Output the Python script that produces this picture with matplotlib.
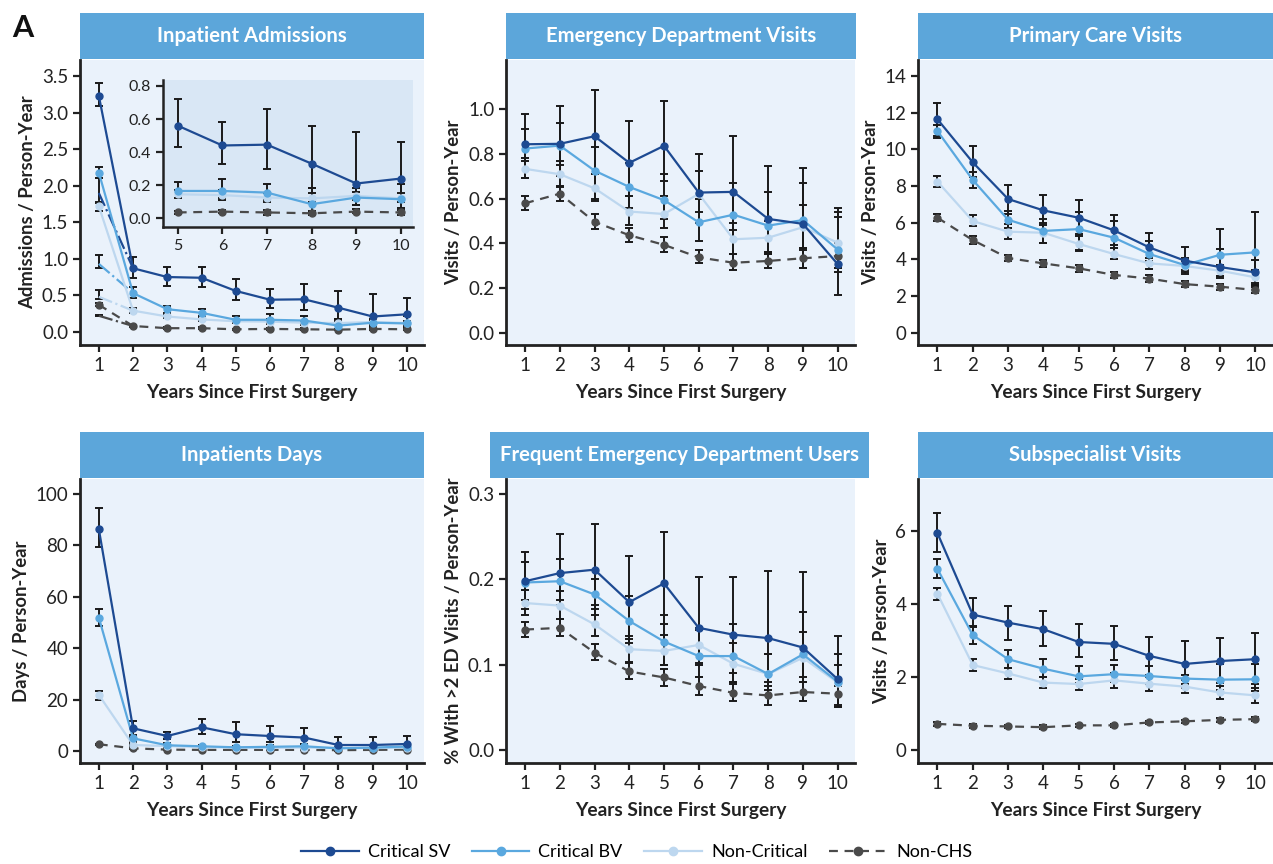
import matplotlib
matplotlib.use("Agg")
import matplotlib.pyplot as plt
from matplotlib.lines import Line2D
from matplotlib.ticker import FormatStrFormatter

plt.rcParams['font.family'] = ['Lato', 'DejaVu Sans']

years = [1, 2, 3, 4, 5, 6, 7, 8, 9, 10]
group_names = ['Critical SV', 'Critical BV', 'Non-Critical', 'Non-CHS']

# --- Inpatient Admissions ---
adm_sv = [3.23, 0.87, 0.75, 0.74, 0.56, 0.44, 0.445, 0.33, 0.21, 0.24]
adm_sv_lo = [3.09, 0.74, 0.63, 0.62, 0.43, 0.33, 0.30, 0.18, 0.08, 0.12]
adm_sv_hi = [3.40, 1.02, 0.89, 0.89, 0.72, 0.58, 0.66, 0.56, 0.52, 0.46]
adm_bv = [2.18, 0.53, 0.31, 0.26, 0.165, 0.165, 0.155, 0.085, 0.125, 0.115]
adm_bv_lo = [2.10, 0.46, 0.26, 0.21, 0.12, 0.12, 0.11, 0.04, 0.08, 0.06]
adm_bv_hi = [2.26, 0.61, 0.36, 0.31, 0.22, 0.24, 0.21, 0.18, 0.18, 0.21]
adm_nc = [1.72, 0.29, 0.21, 0.17, 0.145, 0.14, 0.125, 0.12, 0.135, 0.12]
adm_nc_lo = [1.66, 0.26, 0.19, 0.15, 0.12, 0.11, 0.10, 0.10, 0.11, 0.10]
adm_nc_hi = [1.78, 0.33, 0.24, 0.20, 0.17, 0.17, 0.15, 0.15, 0.16, 0.15]
adm_ctl = [0.37, 0.08, 0.05, 0.05, 0.035, 0.04, 0.035, 0.03, 0.04, 0.035]
adm_ctl_lo = [0.35, 0.07, 0.04, 0.04, 0.025, 0.03, 0.02, 0.02, 0.03, 0.02]
adm_ctl_hi = [0.39, 0.09, 0.06, 0.06, 0.045, 0.05, 0.05, 0.045, 0.055, 0.05]
# second year-1 estimate (dash-dot segments to year 2), order SV, BV, NC, Non-CHS
adm_y1_alt = [1.90, 0.93, 0.48, 0.22]
adm_y1_alt_lo = [1.76, 0.88, 0.45, 0.21]
adm_y1_alt_hi = [2.10, 1.05, 0.57, 0.23]

# --- Emergency Department Visits ---
ed_sv = [0.843, 0.845, 0.879, 0.760, 0.836, 0.627, 0.630, 0.509, 0.487, 0.307]
ed_sv_lo = [0.69, 0.70, 0.71, 0.61, 0.68, 0.49, 0.46, 0.36, 0.29, 0.17]
ed_sv_hi = [0.98, 1.015, 1.087, 0.948, 1.036, 0.80, 0.879, 0.748, 0.737, 0.557]
ed_bv = [0.824, 0.837, 0.725, 0.652, 0.593, 0.494, 0.528, 0.479, 0.504, 0.372]
ed_bv_lo = [0.77, 0.75, 0.59, 0.56, 0.51, 0.41, 0.35, 0.35, 0.38, 0.27]
ed_bv_hi = [0.91, 0.94, 0.83, 0.76, 0.71, 0.60, 0.67, 0.63, 0.67, 0.542]
ed_nc = [0.733, 0.709, 0.646, 0.542, 0.531, 0.621, 0.418, 0.425, 0.472, 0.403]
ed_nc_lo = [0.69, 0.65, 0.60, 0.48, 0.47, 0.54, 0.35, 0.35, 0.37, 0.29]
ed_nc_hi = [0.78, 0.77, 0.71, 0.61, 0.61, 0.725, 0.49, 0.50, 0.572, 0.519]
ed_ctl = [0.579, 0.622, 0.496, 0.436, 0.393, 0.337, 0.313, 0.321, 0.333, 0.343]
ed_ctl_lo = [0.55, 0.59, 0.465, 0.405, 0.36, 0.31, 0.28, 0.29, 0.29, 0.29]
ed_ctl_hi = [0.61, 0.655, 0.53, 0.47, 0.43, 0.37, 0.35, 0.36, 0.38, 0.40]

# --- Primary Care Visits ---
pc_sv = [11.64, 9.29, 7.29, 6.67, 6.27, 5.58, 4.65, 3.93, 3.58, 3.29]
pc_sv_lo = [10.7, 8.5, 6.5, 5.9, 5.4, 4.8, 3.9, 3.3, 3.1, 2.6]
pc_sv_hi = [12.55, 10.18, 8.05, 7.49, 7.22, 6.4, 5.45, 4.65, 4.55, 3.95]
pc_bv = [11.0, 8.33, 6.16, 5.55, 5.65, 5.18, 4.29, 3.69, 4.25, 4.38]
pc_bv_lo = [10.6, 7.9, 5.7, 4.9, 4.5, 4.0, 3.5, 3.2, 3.0, 2.6]
pc_bv_hi = [11.3, 8.75, 6.65, 6.2, 6.6, 6.1, 5.0, 4.1, 5.64, 6.6]
pc_nc = [8.24, 6.09, 5.51, 5.45, 4.84, 4.29, 3.78, 3.64, 3.38, 3.02]
pc_nc_lo = [7.95, 5.8, 5.1, 4.9, 4.45, 4.0, 3.45, 3.4, 3.1, 2.7]
pc_nc_hi = [8.55, 6.4, 5.95, 6.0, 5.3, 4.6, 4.1, 3.9, 3.7, 3.4]
pc_ctl = [6.27, 5.05, 4.07, 3.78, 3.51, 3.15, 2.95, 2.65, 2.51, 2.33]
pc_ctl_lo = [6.1, 4.85, 3.9, 3.6, 3.3, 3.0, 2.75, 2.5, 2.35, 2.15]
pc_ctl_hi = [6.45, 5.25, 4.25, 3.95, 3.7, 3.3, 3.12, 2.8, 2.68, 2.5]

# --- Inpatient Days ---
ipd_sv = [86.3, 8.8, 5.8, 9.2, 6.5, 5.8, 5.2, 2.3, 2.3, 2.7]
ipd_sv_lo = [79.2, 5.5, 4.5, 6.5, 3.5, 3.5, 2.5, 0.5, 0.5, 0.8]
ipd_sv_hi = [94.7, 11.7, 7.2, 12.6, 11.2, 9.8, 9.1, 5.6, 5.4, 5.7]
ipd_bv = [51.9, 4.9, 2.2, 1.8, 1.4, 1.6, 1.8, 1.0, 1.3, 1.7]
ipd_bv_lo = [48.5, 3.5, 1.5, 1.2, 0.9, 1.0, 1.1, 0.5, 0.7, 1.0]
ipd_bv_hi = [55.3, 6.3, 3.0, 2.4, 2.0, 2.3, 2.6, 1.6, 2.0, 2.4]
ipd_nc = [21.8, 2.3, 1.9, 1.5, 1.3, 1.2, 1.3, 1.2, 1.1, 1.3]
ipd_nc_lo = [20.0, 1.8, 1.4, 1.1, 0.9, 0.9, 0.9, 0.8, 0.8, 0.9]
ipd_nc_hi = [23.5, 2.8, 2.4, 1.9, 1.7, 1.6, 1.7, 1.6, 1.5, 1.7]
ipd_ctl = [2.6, 1.0, 0.5, 0.4, 0.4, 0.4, 0.4, 0.3, 0.4, 0.5]
ipd_ctl_lo = [2.4, 0.8, 0.3, 0.2, 0.2, 0.2, 0.2, 0.1, 0.2, 0.3]
ipd_ctl_hi = [2.8, 1.2, 0.7, 0.6, 0.6, 0.6, 0.6, 0.5, 0.6, 0.7]

# --- Frequent Emergency Department Users ---
fed_sv = [0.1975, 0.207, 0.211, 0.173, 0.195, 0.143, 0.135, 0.131, 0.120, 0.083]
fed_sv_lo = [0.165, 0.17, 0.165, 0.13, 0.148, 0.10, 0.09, 0.08, 0.08, 0.053]
fed_sv_hi = [0.232, 0.253, 0.264, 0.227, 0.255, 0.202, 0.203, 0.210, 0.208, 0.134]
fed_bv = [0.196, 0.1975, 0.182, 0.151, 0.127, 0.110, 0.110, 0.089, 0.112, 0.080]
fed_bv_lo = [0.175, 0.175, 0.158, 0.125, 0.10, 0.085, 0.08, 0.065, 0.085, 0.05]
fed_bv_hi = [0.22, 0.224, 0.20, 0.18, 0.158, 0.143, 0.147, 0.113, 0.162, 0.112]
fed_nc = [0.172, 0.169, 0.147, 0.118, 0.116, 0.123, 0.101, 0.089, 0.108, 0.079]
fed_nc_lo = [0.158, 0.153, 0.133, 0.103, 0.10, 0.102, 0.08, 0.07, 0.08, 0.05]
fed_nc_hi = [0.187, 0.186, 0.17, 0.134, 0.135, 0.14, 0.125, 0.112, 0.138, 0.10]
fed_ctl = [0.141, 0.143, 0.114, 0.092, 0.085, 0.075, 0.067, 0.064, 0.068, 0.066]
fed_ctl_lo = [0.132, 0.133, 0.105, 0.083, 0.075, 0.065, 0.058, 0.053, 0.057, 0.05]
fed_ctl_hi = [0.15, 0.153, 0.124, 0.102, 0.095, 0.085, 0.077, 0.075, 0.08, 0.075]

# --- Subspecialist Visits ---
sub_sv = [5.93, 3.70, 3.48, 3.30, 2.95, 2.90, 2.57, 2.35, 2.43, 2.48]
sub_sv_lo = [5.42, 3.35, 3.0, 2.85, 2.55, 2.45, 2.05, 1.8, 1.82, 1.8]
sub_sv_hi = [6.47, 4.15, 3.93, 3.8, 3.45, 3.4, 3.1, 2.98, 3.06, 3.2]
sub_bv = [4.95, 3.14, 2.48, 2.22, 2.01, 2.07, 2.02, 1.95, 1.92, 1.93]
sub_bv_lo = [4.7, 2.9, 2.25, 2.0, 1.82, 1.85, 1.8, 1.7, 1.65, 1.6]
sub_bv_hi = [5.22, 3.4, 2.72, 2.48, 2.3, 2.33, 2.3, 2.05, 2.35, 2.35]
sub_nc = [4.27, 2.32, 2.09, 1.84, 1.80, 1.90, 1.81, 1.73, 1.57, 1.49]
sub_nc_lo = [4.1, 2.15, 1.95, 1.7, 1.65, 1.7, 1.6, 1.55, 1.4, 1.28]
sub_nc_hi = [4.43, 2.48, 2.25, 2.0, 1.95, 2.1, 2.0, 1.9, 1.75, 1.7]
sub_ctl = [0.71, 0.66, 0.64, 0.62, 0.67, 0.67, 0.75, 0.78, 0.82, 0.84]
sub_ctl_lo = [0.66, 0.61, 0.59, 0.57, 0.62, 0.62, 0.70, 0.73, 0.77, 0.79]
sub_ctl_hi = [0.76, 0.71, 0.69, 0.67, 0.72, 0.72, 0.80, 0.83, 0.87, 0.89]

colors = ['#1d4a92', '#5aa8df', '#bdd7ef', '#4a4a4a']
styles = ['-', '-', '-', (0, (4, 3))]
bg = '#eaf2fb'
banner_col = '#5ca6da'
bar_col = '#1a1a1a'

W, H = 1273, 864
fig = plt.figure(figsize=(W / 100, H / 100), dpi=100)


def px_axes(l, t, r, b):
    return fig.add_axes([l / W, 1 - b / H, (r - l) / W, (b - t) / H])


def style_axes(ax, labelsize=13.5):
    ax.set_facecolor(bg)
    for s in ['top', 'right']:
        ax.spines[s].set_visible(False)
    for s in ['left', 'bottom']:
        ax.spines[s].set_linewidth(2)
        ax.spines[s].set_color('#222222')
    ax.tick_params(labelsize=labelsize, length=5, width=1.6, colors='#222222')


def draw_series(ax, x, series):
    for i, (v, lo, hi) in enumerate(series):
        err = [[a - b for a, b in zip(v, lo)], [b - a for a, b in zip(v, hi)]]
        ax.errorbar(x, v, yerr=err, fmt='none', ecolor=bar_col, elinewidth=1.4,
                    capsize=3, capthick=1.4, zorder=2 + i * 0.1)
    for i in [3, 2, 1, 0]:
        v = series[i][0]
        ax.plot(x, v, linestyle=styles[i], color=colors[i], lw=1.6,
                marker='o', ms=5, zorder=3 + (3 - i) * 0.1)


def panel(box, banner, title, series, ylim, yticks, ylabel, fmt=None):
    l, t, r, b = box
    ax = px_axes(l, t, r, b)
    style_axes(ax)
    draw_series(ax, years, series)
    ax.set_xlim(0.45, 10.5)
    ax.set_xticks(years)
    ax.set_ylim(*ylim)
    ax.set_yticks(yticks)
    if fmt:
        ax.yaxis.set_major_formatter(FormatStrFormatter(fmt))
    ax.set_ylabel(ylabel, fontsize=13.3, fontweight='bold', color='#222222')
    ax.set_xlabel('Years Since First Surgery', fontsize=13.8, fontweight='bold',
                  color='#222222', labelpad=7)
    bl, br = banner
    bax = px_axes(bl, t - 47, br, t - 1)
    bax.set_facecolor(banner_col)
    bax.set_xticks([])
    bax.set_yticks([])
    for s in bax.spines.values():
        s.set_visible(False)
    bax.text(0.5, 0.5, title, color='white', fontsize=14.6, fontweight='bold',
             ha='center', va='center', transform=bax.transAxes)
    return ax


ax1 = panel((80, 60, 424, 345), (80, 424), 'Inpatient Admissions',
            [(adm_sv, adm_sv_lo, adm_sv_hi), (adm_bv, adm_bv_lo, adm_bv_hi),
             (adm_nc, adm_nc_lo, adm_nc_hi), (adm_ctl, adm_ctl_lo, adm_ctl_hi)],
            (-0.18, 3.72), [0, 0.5, 1, 1.5, 2, 2.5, 3, 3.5], 'Admissions / Person-Year', '%.1f')
# dash-dot year-1 alternative estimates
year2_adm = [adm_sv[1], adm_bv[1], adm_nc[1], adm_ctl[1]]
for i in range(4):
    ax1.errorbar([1], [adm_y1_alt[i]],
                 yerr=[[adm_y1_alt[i] - adm_y1_alt_lo[i]], [adm_y1_alt_hi[i] - adm_y1_alt[i]]],
                 fmt='none', ecolor=bar_col, elinewidth=1.4, capsize=3, capthick=1.4, zorder=2)
    ax1.plot([1, 2], [adm_y1_alt[i], year2_adm[i]], linestyle='-.', color=colors[i],
             lw=1.6, zorder=3)

# inset
ins = px_axes(163, 80, 413, 227)
style_axes(ins, labelsize=11.5)
ins.set_facecolor('#d9e7f5')
ins.spines['left'].set_linewidth(1.8)
ins.spines['bottom'].set_linewidth(1.8)
draw_series(ins, years[4:],
            [(adm_sv[4:], adm_sv_lo[4:], adm_sv_hi[4:]),
             (adm_bv[4:], adm_bv_lo[4:], adm_bv_hi[4:]),
             (adm_nc[4:], adm_nc_lo[4:], adm_nc_hi[4:]),
             (adm_ctl[4:], adm_ctl_lo[4:], adm_ctl_hi[4:])])
ins.set_xlim(4.67, 10.27)
ins.set_xticks(years[4:])
ins.set_ylim(-0.053, 0.836)
ins.set_yticks([0, 0.2, 0.4, 0.6, 0.8])
ins.yaxis.set_major_formatter(FormatStrFormatter('%.1f'))

panel((506, 60, 855, 345), (506, 856), 'Emergency Department Visits',
      [(ed_sv, ed_sv_lo, ed_sv_hi), (ed_bv, ed_bv_lo, ed_bv_hi),
       (ed_nc, ed_nc_lo, ed_nc_hi), (ed_ctl, ed_ctl_lo, ed_ctl_hi)],
      (-0.055, 1.22), [0, 0.2, 0.4, 0.6, 0.8, 1.0], 'Visits / Person-Year', '%.1f')

panel((918, 60, 1273, 345), (918, 1273), 'Primary Care Visits',
      [(pc_sv, pc_sv_lo, pc_sv_hi), (pc_bv, pc_bv_lo, pc_bv_hi),
       (pc_nc, pc_nc_lo, pc_nc_hi), (pc_ctl, pc_ctl_lo, pc_ctl_hi)],
      (-0.67, 14.87), [0, 2, 4, 6, 8, 10, 12, 14], 'Visits / Person-Year')

panel((80, 479, 424, 763), (80, 424), 'Inpatients Days',
      [(ipd_sv, ipd_sv_lo, ipd_sv_hi), (ipd_bv, ipd_bv_lo, ipd_bv_hi),
       (ipd_nc, ipd_nc_lo, ipd_nc_hi), (ipd_ctl, ipd_ctl_lo, ipd_ctl_hi)],
      (-4.7, 105.8), [0, 20, 40, 60, 80, 100], 'Days / Person-Year')

panel((506, 479, 855, 763), (490, 869), 'Frequent Emergency Department Users',
      [(fed_sv, fed_sv_lo, fed_sv_hi), (fed_bv, fed_bv_lo, fed_bv_hi),
       (fed_nc, fed_nc_lo, fed_nc_hi), (fed_ctl, fed_ctl_lo, fed_ctl_hi)],
      (-0.015, 0.317), [0, 0.1, 0.2, 0.3], '% With >2 ED Visits / Person-Year', '%.1f')

panel((918, 479, 1273, 763), (918, 1273), 'Subspecialist Visits',
      [(sub_sv, sub_sv_lo, sub_sv_hi), (sub_bv, sub_bv_lo, sub_bv_hi),
       (sub_nc, sub_nc_lo, sub_nc_hi), (sub_ctl, sub_ctl_lo, sub_ctl_hi)],
      (-0.36, 7.41), [0, 2, 4, 6], 'Visits / Person-Year')

fig.text(12 / W, 1 - 28 / H, 'A', fontsize=22, fontweight='bold', va='center', ha='left',
         color='#111111')

handles = [Line2D([0], [0], color=colors[i], linestyle=styles[i], lw=1.6, marker='o', ms=6)
           for i in range(4)]
fig.legend(handles, group_names, loc='center', bbox_to_anchor=(0.5, 1 - 852 / H), ncol=4,
           frameon=False, fontsize=13, handlelength=3.2, columnspacing=1.2, handletextpad=0.5)

fig.savefig('out.png', dpi=100)
